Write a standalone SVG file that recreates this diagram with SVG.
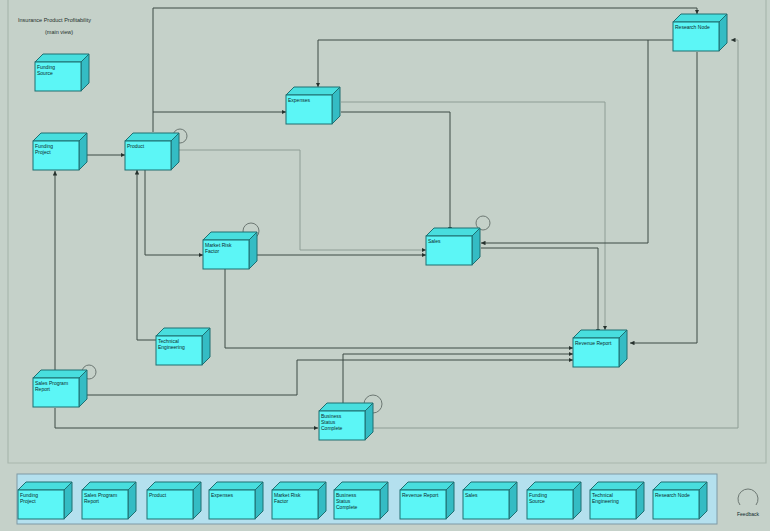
<svg xmlns="http://www.w3.org/2000/svg" width="770" height="531" viewBox="0 0 770 531">
  <style>
    .bg { fill: #c5d1c9; }
    .frame { fill: none; stroke: #a9b7ae; stroke-width: 1.2; }
    .front { fill: #5cf6f6; stroke: #1f6f70; stroke-width: 1; }
    .top { fill: #48dede; stroke: #1f6f70; stroke-width: 1; }
    .side { fill: #34bcc4; stroke: #1f6f70; stroke-width: 1; }
    .lbl { font-family: "Liberation Sans", Arial, sans-serif; font-size: 5px; fill: #0e2a2c; }
    .title { font-family: "Liberation Sans", Arial, sans-serif; font-size: 5.5px; fill: #24302b; }
    .conn { fill: none; stroke: #3d4a45; stroke-width: 1; }
    .conn-lt { fill: none; stroke: #8e9d95; stroke-width: 1; }
    .loop { fill: none; stroke: #6d7873; stroke-width: 1; }
    .palette { fill: #b4e0ee; stroke: #7f9aa6; stroke-width: 1; }
  </style>
  <defs>
    <marker id="arr" viewBox="0 0 6 6" refX="6" refY="3" markerWidth="4.5" markerHeight="4.5" orient="auto">
      <path d="M0,0 L6,3 L0,6 z" fill="#26312d"/>
    </marker>
    <!-- 3D node box, front face 46x29, depth 8 -->
    <g id="box">
      <path class="top" d="M0,0 L8,-8 L54,-8 L46,0 z"/>
      <path class="side" d="M46,0 L54,-8 L54,21 L46,29 z"/>
      <rect class="front" x="0" y="0" width="46" height="29"/>
    </g>
  </defs>

  <rect class="bg" x="0" y="0" width="770" height="531"/>
  <path class="frame" d="M8,0 V463 H766 V0"/>

  <!-- title -->
  <g id="title">
    <text class="title" x="18" y="22">Insurance Product Profitability</text>
    <text class="title" x="45" y="34">(main view)</text>
  </g>

  <!-- connectors -->
  <g id="connectors">
    <path class="conn-lt" d="M341,102 H605 V330" marker-end="url(#arr)"/>
    <path class="conn-lt" d="M372,428 H738 V40 H731" marker-end="url(#arr)"/>
    <path class="conn-lt" d="M179,150 H300 V250 H426" marker-end="url(#arr)"/>
    <path class="conn" d="M153,132 V8 H697 V14" marker-end="url(#arr)"/>
    <path class="conn" d="M697,52 V343 H630" marker-end="url(#arr)"/>
    <path class="conn" d="M673,40 H318 V87" marker-end="url(#arr)"/>
    <path class="conn" d="M341,112 H450 V231" marker-end="url(#arr)"/>
    <path class="conn" d="M648,40 V243 H481" marker-end="url(#arr)"/>
    <path class="conn" d="M481,248 H598 V333" marker-end="url(#arr)"/>
    <path class="conn" d="M145,170 V255 H203" marker-end="url(#arr)"/>
    <path class="conn" d="M257,255 H426" marker-end="url(#arr)"/>
    <path class="conn" d="M153,112 H286" marker-end="url(#arr)"/>
    <path class="conn" d="M87,155 H125" marker-end="url(#arr)"/>
    <path class="conn" d="M55,371 V171" marker-end="url(#arr)"/>
    <path class="conn" d="M156,340 H137 V170" marker-end="url(#arr)"/>
    <path class="conn" d="M87,395 H297 V360 H573" marker-end="url(#arr)"/>
    <path class="conn" d="M225,268 V348 H573" marker-end="url(#arr)"/>
    <path class="conn" d="M343,404 V354 H573" marker-end="url(#arr)"/>
    <path class="conn" d="M55,408 V428 H318" marker-end="url(#arr)"/>
    <!-- self loops -->
    <circle class="loop" cx="180" cy="136" r="7"/>
    <circle class="loop" cx="251" cy="231" r="8"/>
    <circle class="loop" cx="483" cy="223" r="7"/>
    <circle class="loop" cx="89" cy="372" r="7"/>
    <circle class="loop" cx="373" cy="404" r="9"/>
  </g>

  <!-- nodes -->
  <g id="funding-source" transform="translate(35,62)">
    <use href="#box"/>
    <text class="lbl" x="2" y="7">Funding</text>
    <text class="lbl" x="2" y="13">Source</text>
  </g>
  <g id="funding-project" transform="translate(33,141)">
    <use href="#box"/>
    <text class="lbl" x="2" y="7">Funding</text>
    <text class="lbl" x="2" y="13">Project</text>
  </g>
  <g id="product" transform="translate(125,141)">
    <use href="#box"/>
    <text class="lbl" x="2" y="7">Product</text>
  </g>
  <g id="expenses" transform="translate(286,95)">
    <use href="#box"/>
    <text class="lbl" x="2" y="7">Expenses</text>
  </g>
  <g id="market-risk-factor" transform="translate(203,240)">
    <use href="#box"/>
    <text class="lbl" x="2" y="7">Market Risk</text>
    <text class="lbl" x="2" y="13">Factor</text>
  </g>
  <g id="sales" transform="translate(426,236)">
    <use href="#box"/>
    <text class="lbl" x="2" y="7">Sales</text>
  </g>
  <g id="research-node" transform="translate(673,22)">
    <use href="#box"/>
    <text class="lbl" x="2" y="7">Research Node</text>
  </g>
  <g id="technical-engineering" transform="translate(156,336)">
    <use href="#box"/>
    <text class="lbl" x="2" y="7">Technical</text>
    <text class="lbl" x="2" y="13">Engineering</text>
  </g>
  <g id="sales-program-report" transform="translate(33,378)">
    <use href="#box"/>
    <text class="lbl" x="2" y="7">Sales Program</text>
    <text class="lbl" x="2" y="13">Report</text>
  </g>
  <g id="business-status-complete" transform="translate(319,411)">
    <use href="#box"/>
    <text class="lbl" x="2" y="7">Business</text>
    <text class="lbl" x="2" y="13">Status</text>
    <text class="lbl" x="2" y="19">Complete</text>
  </g>
  <g id="revenue-report" transform="translate(573,338)">
    <use href="#box"/>
    <text class="lbl" x="2" y="7">Revenue Report</text>
  </g>

  <!-- palette of node types -->
  <g id="palette">
    <rect class="palette" x="17" y="474" width="700" height="50"/>
    <g transform="translate(18,490)"><use href="#box"/><text class="lbl" x="2" y="7">Funding</text><text class="lbl" x="2" y="13">Project</text></g>
    <g transform="translate(82,490)"><use href="#box"/><text class="lbl" x="2" y="7">Sales Program</text><text class="lbl" x="2" y="13">Report</text></g>
    <g transform="translate(147,490)"><use href="#box"/><text class="lbl" x="2" y="7">Product</text></g>
    <g transform="translate(209,490)"><use href="#box"/><text class="lbl" x="2" y="7">Expenses</text></g>
    <g transform="translate(272,490)"><use href="#box"/><text class="lbl" x="2" y="7">Market Risk</text><text class="lbl" x="2" y="13">Factor</text></g>
    <g transform="translate(334,490)"><use href="#box"/><text class="lbl" x="2" y="7">Business</text><text class="lbl" x="2" y="13">Status</text><text class="lbl" x="2" y="19">Complete</text></g>
    <g transform="translate(400,490)"><use href="#box"/><text class="lbl" x="2" y="7">Revenue Report</text></g>
    <g transform="translate(463,490)"><use href="#box"/><text class="lbl" x="2" y="7">Sales</text></g>
    <g transform="translate(527,490)"><use href="#box"/><text class="lbl" x="2" y="7">Funding</text><text class="lbl" x="2" y="13">Source</text></g>
    <g transform="translate(590,490)"><use href="#box"/><text class="lbl" x="2" y="7">Technical</text><text class="lbl" x="2" y="13">Engineering</text></g>
    <g transform="translate(653,490)"><use href="#box"/><text class="lbl" x="2" y="7">Research Node</text></g>
  </g>

  <!-- feedback legend -->
  <g id="feedback">
    <path class="loop" d="M740,505 A10,10 0 1 1 756,505"/>
    <text class="lbl" x="748" y="516" text-anchor="middle">Feedback</text>
  </g>
</svg>
